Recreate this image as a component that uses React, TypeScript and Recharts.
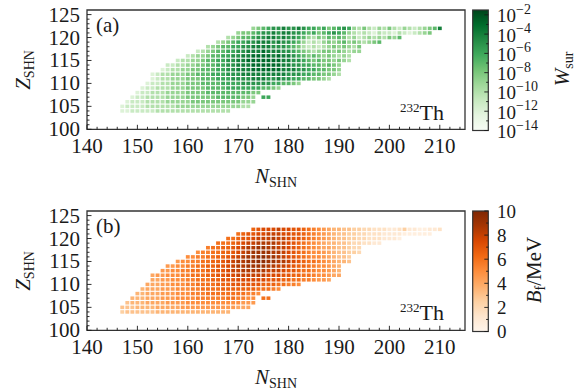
import React from "react";
import { ScatterChart, Scatter, XAxis, YAxis, ReferenceArea } from "recharts";

// rows of the nuclide map, top row first
const Z_ROWS = [122, 121, 120, 119, 118, 117, 116, 115, 114, 113, 112, 111, 110, 109, 108, 107, 106, 105, 104];
// first N of every row
const N_FIRST = [173, 170, 168, 166, 164, 162, 160, 158, 156, 155, 153, 153, 152, 151, 150, 149, 148, 147, 147];

// log10 of W_sur; null = no cell
const LOG_W_ROWS: (number | null)[][] = [
  [-9, -8, -7, -6, -5, -5, -4, -5, -5, -4, -5, -6, -6, -7, -6, -8, -7, -6, -5, -6, -9, -10, -8, -10, -11, -9, -10, -8, -10, -11, -9, -10, -11, -10, -9, -8, -7, -4],
  [-9, -8, -8, -7, -6, -5, -5, -4, -5, -4, -4, -5, -5, -6, -7, -6, -8, -7, -6, -5, -6, -7, -9, -10, -11, -10, -11, -12, -10, -11, -11, -12, -10, -11, -12, -11, -10, -9, -8],
  [-10, -9, -8, -7, -7, -6, -5, -5, -4, -4, -5, -4, -5, -5, -6, -7, -9, -10, -8, -9, -7, -8, -7, -8, -10, -9, -11, -10, -9, -10, -9, -10, -8, -9, -7],
  [-10, -9, -8, -7, -6, -6, -5, -5, -4, -4, -4, -5, -4, -5, -5, -6, -7, -9, -11, -10, -11, -9, -8, -9, -8, -7, -9, -8, -9, -10, -9, -8, -7],
  [-10, -9, -8, -7, -7, -6, -6, -5, -5, -4, -4, -4, -4, -5, -5, -5, -6, -7, -8, -10, -11, -10, -11, -10, -9, -8, -9, -8, -9, -10, -8],
  [-11, -10, -9, -8, -7, -7, -6, -6, -5, -5, -4, -4, -4, -3, -4, -4, -4, -5, -5, -6, -7, -8, -9, -10, -9, -8, -8, -9, -8, -9, -10, -9, -9],
  [-11, -10, -9, -9, -8, -7, -7, -6, -6, -5, -5, -4, -4, -3, -3, -3, -3, -4, -3, -4, -4, -5, -6, -7, -8, -7, -8, -9, -8, -9, -10, -9, -10],
  [-11, -10, -10, -9, -9, -8, -7, -7, -6, -6, -5, -5, -4, -4, -3, -3, -3, -3, -3, -3, -3, -4, -4, -5, -5, -6, -7, -8, -7, -8, -8, -9, -8, -9, -10],
  [-11, -11, -10, -10, -9, -9, -8, -8, -7, -7, -6, -6, -5, -5, -4, -4, -4, -3, -3, -3, -3, -3, -3, -4, -4, -5, -5, -6, -6, -7, -7, -8, -7, -8, -9],
  [-12, -11, -10, -10, -9, -9, -8, -8, -7, -7, -7, -6, -6, -5, -5, -4, -4, -4, -3, -3, -3, -3, -3, -3, -4, -4, -4, -5, -5, -6, -6, -7, -7, -8, -8, -9],
  [-12, -11, -10, -10, -9, -9, -9, -8, -8, -7, -7, -7, -6, -6, -6, -5, -5, -5, -4, -4, -4, -4, -4, -4, -4, -4, -4, -5, -5, -5, -6, -6, -7, -7, -8, -8, -9, -10],
  [-12, -11, -10, -10, -9, -9, -9, -8, -8, -8, -7, -7, -7, -6, -6, -6, -5, -5, -5, -5, -4, -4, -4, -5, -5, -4, -5, -5, -6, -6, -7, -7, -8, -8, -9, -10],
  [-12, -11, -11, -10, -10, -9, -9, -9, -8, -8, -8, -7, -7, -7, -7, -6, -6, -6, -6, -5, -5, -5, -5, -5, -5, -6, -6, -7, -7, -8, -9],
  [-12, -11, -11, -10, -10, -10, -9, -9, -9, -8, -8, -8, -8, -7, -7, -7, -7, -6, -6, -6, -6, -6, -6, -6, -7, -7, -8, -9],
  [-12, -11, -11, -10, -10, -10, -9, -9, -9, -9, -8, -8, -8, -8, -7, -7, -7, -7, -7, -7, -7, -7, -7, -8, -8],
  [-12, -11, -11, -10, -10, -10, -10, -9, -9, -9, -9, -8, -8, -8, -8, -8, -8, -7, -7, -7, -7, -7, -8, -8, -9, null, -6, -6],
  [-12, -11, -11, -11, -10, -10, -10, -10, -9, -9, -9, -9, -9, -8, -8, -8, -8, -8, -8, -8, -8, -8, -8, -9, -9, -9],
  [-12, -11, -11, -11, -11, -10, -10, -10, -10, -10, -10, -9, -9, -9, -9, -9, -9, -9, -9, -9, -9, -9, -9, -9, -10, -10],
  [-12, -12, -11, -11, -11, -11, -11, -10, -10, -10, -10, -10, -10, -10, -10, -10, -10, -10, -10, -10, -10, -10],
];

// fission barrier B_f in MeV
const BF_ROWS: (number | null)[][] = [
  [6.5, 7, 7.5, 7.5, 7.5, 8, 7.5, 7.5, 7, 7, 6.5, 6, 5.5, 5, 4.5, 4, 3.5, 3.5, 3, 3, 2.5, 2.5, 2, 2, 1.5, 1.5, 1.5, 1, 1, 1.5, 2.5, 1, 1, 0.5, 0.5, 1, 1, 1.5],
  [6, 6.5, 7, 7, 7.5, 7.5, 8, 8, 8, 7.5, 7.5, 7, 7, 6.5, 6, 5.5, 5, 4.5, 4, 3.5, 3, 3, 2.5, 2.5, 2, 2, 1.5, 1.5, 1.5, 1, 1, 1, 1, 0.5, 0.5, 0.5, 0.5, 0.5, 0.5],
  [6, 6, 6.5, 7, 7, 7.5, 8, 8, 8, 8.5, 8, 8, 7.5, 7, 7, 6.5, 6, 5.5, 5, 4.5, 4, 3.5, 3, 3, 2.5, 2.5, 2, 2, 1.5, 1.5, 1.5, 1, 1, 1, 0.5],
  [6, 6, 6, 6.5, 7, 7.5, 8, 8, 8.5, 8.5, 8.5, 8.5, 8, 8, 7.5, 7, 6.5, 6, 5.5, 5, 4.5, 4, 3.5, 3.5, 3, 3, 2.5, 2, 2, 1.5, 1.5, 1, 1],
  [5.5, 6, 6, 6.5, 6.5, 7, 7.5, 8, 8.5, 8.5, 9, 9, 8.5, 8.5, 8, 8, 7.5, 7, 6.5, 6, 5.5, 5, 4.5, 4, 4, 3.5, 3, 3, 2.5, 2, 2],
  [5, 5.5, 5.5, 6, 6, 6.5, 6.5, 7, 7.5, 8, 8.5, 9, 9, 9, 9, 8.5, 8.5, 8, 7.5, 7, 6.5, 6, 5.5, 5, 5, 4.5, 4, 3.5, 3, 3, 2.5, 2.5, 2],
  [5, 5, 5.5, 5.5, 6, 6, 6.5, 6.5, 7, 7.5, 8, 8.5, 9, 9, 9.5, 9.5, 9, 9, 8.5, 8, 7.5, 7, 6.5, 6, 5.5, 5, 5, 4.5, 4, 3.5, 3, 3, 2.5],
  [4.5, 5, 5, 5.5, 5.5, 6, 6, 6.5, 6.5, 7, 7.5, 8, 8.5, 8.5, 9, 9, 9.5, 9.5, 9, 9, 8.5, 8.5, 8, 7.5, 7, 6.5, 6, 6, 5.5, 5, 4.5, 4, 3.5, 3.5, 3],
  [4.5, 4.5, 5, 5, 5.5, 5.5, 6, 6, 6.5, 6.5, 7, 7, 7.5, 8, 8.5, 8.5, 9, 9, 9, 9, 8.5, 8.5, 8, 8, 7.5, 7, 6.5, 6.5, 6, 5.5, 5, 5, 4.5, 4, 3.5],
  [4.5, 4.5, 5, 5, 5.5, 5.5, 6, 6, 6, 6.5, 6.5, 7, 7, 7.5, 8, 8, 8.5, 8.5, 8.5, 8.5, 8.5, 8, 8, 8, 7.5, 7, 7, 6.5, 6, 6, 5.5, 5, 5, 4.5, 4, 3.5],
  [4, 4.5, 4.5, 5, 5, 5, 5.5, 5.5, 6, 6, 6, 6.5, 6.5, 7, 7, 7.5, 7.5, 8, 8, 8, 8, 8, 8, 7.5, 7.5, 7.5, 7, 7, 6.5, 6.5, 6, 6, 5.5, 5, 5, 4.5, 4, 4],
  [4, 4, 4.5, 4.5, 5, 5, 5, 5.5, 5.5, 6, 6, 6, 6.5, 6.5, 7, 7, 7, 7.5, 7.5, 7.5, 7.5, 7.5, 7.5, 7, 7, 7, 6.5, 6.5, 6, 6, 5.5, 5.5, 5, 4.5, 4.5, 4],
  [4, 4, 4, 4.5, 4.5, 5, 5, 5, 5.5, 5.5, 6, 6, 6, 6, 6.5, 6.5, 6.5, 7, 7, 7, 7, 7, 7, 6.5, 6.5, 6.5, 6, 6, 5.5, 5.5, 5],
  [3.5, 4, 4, 4, 4.5, 4.5, 4.5, 5, 5, 5, 5.5, 5.5, 6, 6, 6, 6, 6.5, 6.5, 6.5, 6.5, 6.5, 6.5, 6.5, 6, 6, 6, 5.5, 5],
  [3.5, 3.5, 4, 4, 4, 4.5, 4.5, 4.5, 5, 5, 5, 5.5, 5.5, 5.5, 6, 6, 6, 6, 6, 6, 6, 6, 5.5, 5.5, 5],
  [3.5, 3.5, 3.5, 4, 4, 4, 4.5, 4.5, 4.5, 5, 5, 5, 5, 5.5, 5.5, 5.5, 5.5, 5.5, 5.5, 6, 6, 5.5, 5.5, 5, 5, null, 6, 6],
  [3, 3.5, 3.5, 3.5, 4, 4, 4, 4, 4.5, 4.5, 4.5, 4.5, 5, 5, 5, 5, 5, 5, 5, 5, 5, 5, 5, 4.5, 4.5, 4.5],
  [3, 3, 3, 3.5, 3.5, 3.5, 3.5, 4, 4, 4, 4, 4, 4.5, 4.5, 4.5, 4.5, 4.5, 4.5, 4.5, 4.5, 4.5, 4.5, 4.5, 4, 4, 4],
  [2.5, 3, 3, 3, 3, 3, 3, 3.5, 3.5, 3.5, 3.5, 3.5, 3.5, 3.5, 3.5, 3.5, 3.5, 3.5, 3.5, 3.5, 3.5, 3.5],
];

const X_TICKS = [140, 142, 144, 146, 148, 150, 152, 154, 156, 158, 160, 162, 164, 166, 168, 170, 172, 174, 176, 178, 180, 182, 184, 186, 188, 190, 192, 194, 196, 198, 200, 202, 204, 206, 208, 210, 212, 214];
const Y_TICKS = [100, 101, 102, 103, 104, 105, 106, 107, 108, 109, 110, 111, 112, 113, 114, 115, 116, 117, 118, 119, 120, 121, 122, 123, 124, 125];
const W_DECADES = [-14, -13, -12, -11, -10, -9, -8, -7, -6, -5, -4, -3, -2];
const BF_TICKS = [0, 1, 2, 3, 4, 5, 6, 7, 8, 9, 10];

const W_MIN = -14;
const W_MAX = -1.5;
const BF_MAX = 10;

const GREENS = ["#f7fcf5", "#e5f5e0", "#c7e9c0", "#a1d99b", "#74c476", "#41ab5d", "#238b45", "#006d2c", "#00441b"];
const ORANGES = ["#fff5eb", "#fee6ce", "#fdd0a2", "#fdae6b", "#fd8d3c", "#f16913", "#d94801", "#a63603", "#7f2704"];

const FONT = "'Liberation Serif', 'Times New Roman', serif";
const INK = "#1a1a1a";

type Cell = { n: number; z: number; v: number };

function buildCells(rows: (number | null)[][]): Cell[] {
  const out: Cell[] = [];
  rows.forEach((row, i) => {
    row.forEach((v, j) => {
      if (v !== null) out.push({ n: N_FIRST[i] + j, z: Z_ROWS[i], v });
    });
  });
  return out;
}

const cellsW = buildCells(LOG_W_ROWS);
const cellsBf = buildCells(BF_ROWS);

function hex(h: string) {
  return [1, 3, 5].map((k) => parseInt(h.slice(k, k + 2), 16));
}

function cmap(stops: string[], t: number) {
  const c = Math.max(0, Math.min(1, t)) * (stops.length - 1);
  const i = Math.min(stops.length - 2, Math.floor(c));
  const f = c - i;
  const a = hex(stops[i]);
  const b = hex(stops[i + 1]);
  const rgb = a.map((x, k) => Math.round(x + (b[k] - x) * f));
  return `rgb(${rgb[0]},${rgb[1]},${rgb[2]})`;
}

const greenOf = (v: number) => cmap(GREENS, (v - W_MIN) / (W_MAX - W_MIN));
const orangeOf = (v: number) => cmap(ORANGES, v / BF_MAX);

const makeShape = (colorOf: (v: number) => string) => (props: any) => {
  const { cx, cy, payload } = props;
  return <rect x={cx - 1.95} y={cy - 1.75} width={3.9} height={3.5} fill={colorOf(payload.v)} />;
};

function XTick(props: any) {
  const { x, y, payload } = props;
  const major = payload.value % 10 === 0;
  return (
    <g>
      <line x1={x} x2={x} y1={y} y2={y - (major ? 4.5 : 2.5)} stroke={INK} strokeWidth={0.9} />
      {major && (
        <text x={x} y={y + 23.5} textAnchor="middle" fontSize={21} fontFamily={FONT} fill={INK}>
          {payload.value}
        </text>
      )}
    </g>
  );
}

function YTick(props: any) {
  const { x, y, payload } = props;
  const major = payload.value % 5 === 0;
  return (
    <g>
      <line x1={x} x2={x + (major ? 4.5 : 2.5)} y1={y} y2={y} stroke={INK} strokeWidth={0.9} />
      {major && (
        <text x={x - 7} y={y + 7} textAnchor="end" fontSize={21} fontFamily={FONT} fill={INK}>
          {payload.value}
        </text>
      )}
    </g>
  );
}

function Panel({ data, colorOf }: { data: Cell[]; colorOf: (v: number) => string }) {
  return (
    <ScatterChart width={579} height={200} margin={{ top: 10, right: 114, bottom: 0, left: 0 }}>
      <XAxis
        type="number"
        dataKey="n"
        domain={[140, 215]}
        allowDataOverflow
        ticks={X_TICKS}
        interval={0}
        tick={<XTick />}
        tickLine={false}
        tickSize={0}
        tickMargin={0}
        axisLine={false}
        height={70.7}
      />
      <YAxis
        type="number"
        dataKey="z"
        domain={[100, 126]}
        allowDataOverflow
        ticks={Y_TICKS}
        interval={0}
        tick={<YTick />}
        tickLine={false}
        tickSize={0}
        tickMargin={0}
        axisLine={false}
        width={87}
      />
      <Scatter data={data} isAnimationActive={false} shape={makeShape(colorOf)} />
      <ReferenceArea x1={140} x2={215} y1={100} y2={126} fill="none" stroke="#333" strokeWidth={1.3} />
    </ScatterChart>
  );
}

function Sub({ main, sub }: { main: string; sub: string }) {
  return (
    <>
      <tspan fontStyle="italic" fontSize={21}>
        {main}
      </tspan>
      <tspan fontSize={14} dy={4}>
        {sub}
      </tspan>
    </>
  );
}

function Overlay() {
  const barX = 472.7;
  const barW = 15.6;
  const wTop = 10;
  const wBot = 130.5;
  const bTop = 211;
  const bBot = 331.5;
  const yW = (d: number) => wBot - ((d - W_MIN) / (W_MAX - W_MIN)) * (wBot - wTop);
  const yB = (v: number) => bBot - (v / BF_MAX) * (bBot - bTop);
  return (
    <svg width={579} height={390} style={{ position: "absolute", left: 0, top: 0, pointerEvents: "none" }} fontFamily={FONT} fill={INK}>
      <defs>
        <linearGradient id="gGreens" x1="0" y1="1" x2="0" y2="0">
          {GREENS.map((c, i) => (
            <stop key={i} offset={i / (GREENS.length - 1)} stopColor={c} />
          ))}
        </linearGradient>
        <linearGradient id="gOranges" x1="0" y1="1" x2="0" y2="0">
          {ORANGES.map((c, i) => (
            <stop key={i} offset={i / (ORANGES.length - 1)} stopColor={c} />
          ))}
        </linearGradient>
      </defs>

      {/* panel (a) annotations */}
      <text x={96} y={32} fontSize={21}>(a)</text>
      <text x={400} y={119.5}>
        <tspan fontSize={13} dy={-8}>232</tspan>
        <tspan fontSize={22} dy={8}>Th</tspan>
      </text>
      <text x={276} y={183} textAnchor="middle">
        <Sub main="N" sub="SHN" />
      </text>
      <text transform="translate(30,70) rotate(-90)" textAnchor="middle">
        <Sub main="Z" sub="SHN" />
      </text>

      {/* colorbar (a) */}
      <rect x={barX} y={wTop} width={barW} height={wBot - wTop} fill="url(#gGreens)" stroke="#333" strokeWidth={1.2} />
      {W_DECADES.map((d) => (
        <line key={d} x1={barX + barW} x2={barX + barW - (d % 2 === 0 ? 4 : 2.2)} y1={yW(d)} y2={yW(d)} stroke={INK} strokeWidth={0.9} />
      ))}
      {W_DECADES.filter((d) => d % 2 === 0).map((d) => (
        <text key={d} x={497} y={yW(d) + 7.5} fontSize={19}>
          <tspan>10</tspan>
          <tspan fontSize={14} dy={-8.5}>{`\u2212${-d}`}</tspan>
        </text>
      ))}
      <text transform="translate(569,69) rotate(-90)" textAnchor="middle">
        <Sub main="W" sub="sur" />
      </text>

      {/* panel (b) annotations */}
      <text x={96} y={233} fontSize={21}>(b)</text>
      <text x={400} y={319.5}>
        <tspan fontSize={13} dy={-8}>232</tspan>
        <tspan fontSize={22} dy={8}>Th</tspan>
      </text>
      <text x={276} y={384} textAnchor="middle">
        <Sub main="N" sub="SHN" />
      </text>
      <text transform="translate(30,271) rotate(-90)" textAnchor="middle">
        <Sub main="Z" sub="SHN" />
      </text>

      {/* colorbar (b) */}
      <rect x={barX} y={bTop} width={barW} height={bBot - bTop} fill="url(#gOranges)" stroke="#333" strokeWidth={1.2} />
      {BF_TICKS.map((v) => (
        <line key={v} x1={barX + barW} x2={barX + barW - (v % 2 === 0 ? 4 : 2.2)} y1={yB(v)} y2={yB(v)} stroke={INK} strokeWidth={0.9} />
      ))}
      {BF_TICKS.filter((v) => v % 2 === 0).map((v) => (
        <text key={v} x={497} y={yB(v) + 6.5} fontSize={19}>
          {v}
        </text>
      ))}
      <text transform="translate(541,270) rotate(-90)" textAnchor="middle" fontSize={21}>
        <tspan fontStyle="italic">B</tspan>
        <tspan fontSize={14} dy={4}>f</tspan>
        <tspan dy={-4}>/MeV</tspan>
      </text>
    </svg>
  );
}

export default function App() {
  return (
    <div style={{ position: "absolute", left: 0, top: 0, width: 579, height: 390, background: "#fff", overflow: "hidden" }}>
      <div style={{ position: "absolute", left: 0, top: 0 }}>
        <Panel data={cellsW} colorOf={greenOf} />
      </div>
      <div style={{ position: "absolute", left: 0, top: 201 }}>
        <Panel data={cellsBf} colorOf={orangeOf} />
      </div>
      <Overlay />
    </div>
  );
}
